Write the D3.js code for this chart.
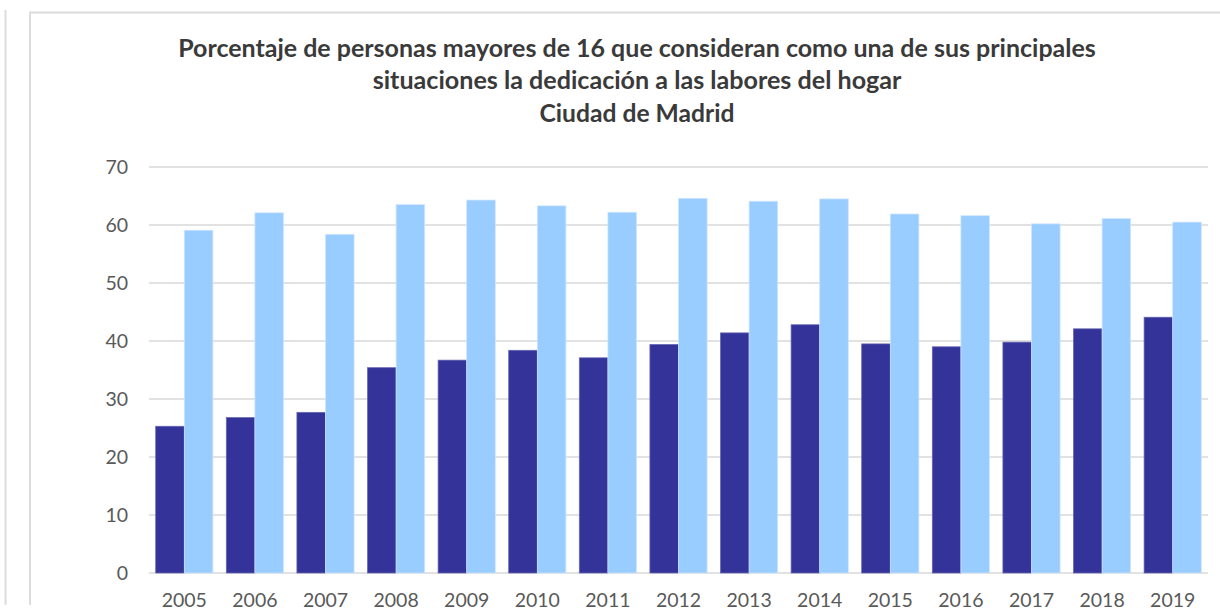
<!DOCTYPE html>
<html>
<head>
<meta charset="utf-8">
<script src="https://cdn.jsdelivr.net/npm/d3@7"></script>
<style>
  html, body { margin: 0; padding: 0; background: #fff; }
  svg { display: block; }
</style>
</head>
<body>
<svg id="chart" width="1220" height="613"></svg>
<script>
// years on the x axis
const years = ["2005", "2006", "2007", "2008", "2009", "2010", "2011", "2012",
               "2013", "2014", "2015", "2016", "2017", "2018", "2019"];
// dark series (men) and light series (women)
const darkValues = [25.3, 26.8, 27.7, 35.4, 36.7, 38.4, 37.1, 39.4, 41.4, 42.8, 39.5, 39.0, 39.8, 42.1, 44.1];
const lightValues = [59.1, 62.1, 58.4, 63.5, 64.3, 63.3, 62.2, 64.6, 64.1, 64.5, 61.9, 61.6, 60.2, 61.1, 60.5];
const yTicks = [0, 10, 20, 30, 40, 50, 60, 70];
const titleLines = [
  "Porcentaje de personas mayores de 16 que consideran como una de sus principales",
  "situaciones la dedicación a las labores del hogar",
  "Ciudad de Madrid"
];

const svg = d3.select("#chart");
const font = "Lato, 'Open Sans', sans-serif";

// frames (edge of neighbouring chart + this chart's border)
svg.append("line")
   .attr("x1", 5.5).attr("x2", 5.5).attr("y1", 10).attr("y2", 605)
   .style("stroke", "#dcdcdc").style("stroke-width", 2);
svg.append("path")
   .attr("d", "M30,605 V12.5 H1220")
   .style("fill", "none").style("stroke", "#dcdcdc").style("stroke-width", 2);

// title, each line scaled to the width it has in the picture
const titleWidths = [918, 529, 195];
const titleY = [57, 89, 122];
titleLines.forEach((t, i) => {
  const txt = svg.append("text")
     .attr("x", 637).attr("y", titleY[i])
     .attr("text-anchor", "middle")
     .style("font-family", font).style("font-weight", "bold")
     .style("font-size", "20px").style("fill", "#3a3a3a")
     .text(t);
  const w = txt.node().getComputedTextLength();
  txt.style("font-size", (20 * titleWidths[i] / w).toFixed(2) + "px");
});

const x = d3.scaleBand().domain(years).range([149, 1208]).paddingInner(0.19).paddingOuter(0.095);
const sub = d3.scaleBand().domain(["dark", "light"]).range([0, x.bandwidth()]);
const y = d3.scaleLinear().domain([0, 70]).range([573, 167]);

// gridlines
svg.append("g")
   .selectAll("line")
   .data(yTicks)
   .enter()
   .append("line")
   .attr("x1", 149).attr("x2", 1208)
   .attr("y1", d => y(d)).attr("y2", d => y(d))
   .style("stroke", "#d9d9d9").style("stroke-width", 1.5);

// y axis labels
const yAxis = svg.append("g")
   .attr("transform", "translate(149,0)")
   .call(d3.axisLeft(y).tickValues(yTicks).tickSize(0).tickPadding(21));
yAxis.select(".domain").remove();
yAxis.selectAll("text")
   .style("font-family", font).style("font-size", "19.5px").style("fill", "#595959");

// x axis labels, kept just inside the bottom edge
const xAxis = svg.append("g")
   .attr("transform", "translate(0,573)")
   .call(d3.axisBottom(x).tickSize(0).tickPadding(20));
xAxis.select(".domain").remove();
xAxis.selectAll("text")
   .style("font-family", font).style("font-size", "19.5px").style("fill", "#595959");

// bars
const groups = svg.append("g")
   .selectAll("g")
   .data(years)
   .enter()
   .append("g")
   .attr("transform", d => `translate(${x(d)},0)`);

groups.append("rect")
   .attr("x", sub("dark"))
   .attr("width", sub.bandwidth())
   .attr("y", (d, i) => y(darkValues[i]))
   .attr("height", (d, i) => y(0) - y(darkValues[i]))
   .style("fill", "#333399")
   .style("stroke", "#6666b3").style("stroke-width", 0.75);

groups.append("rect")
   .attr("x", sub("light"))
   .attr("width", sub.bandwidth())
   .attr("y", (d, i) => y(lightValues[i]))
   .attr("height", (d, i) => y(0) - y(lightValues[i]))
   .style("fill", "#99ccff")
   .style("stroke", "#cfe6ff").style("stroke-width", 0.75);
</script>
</body>
</html>
